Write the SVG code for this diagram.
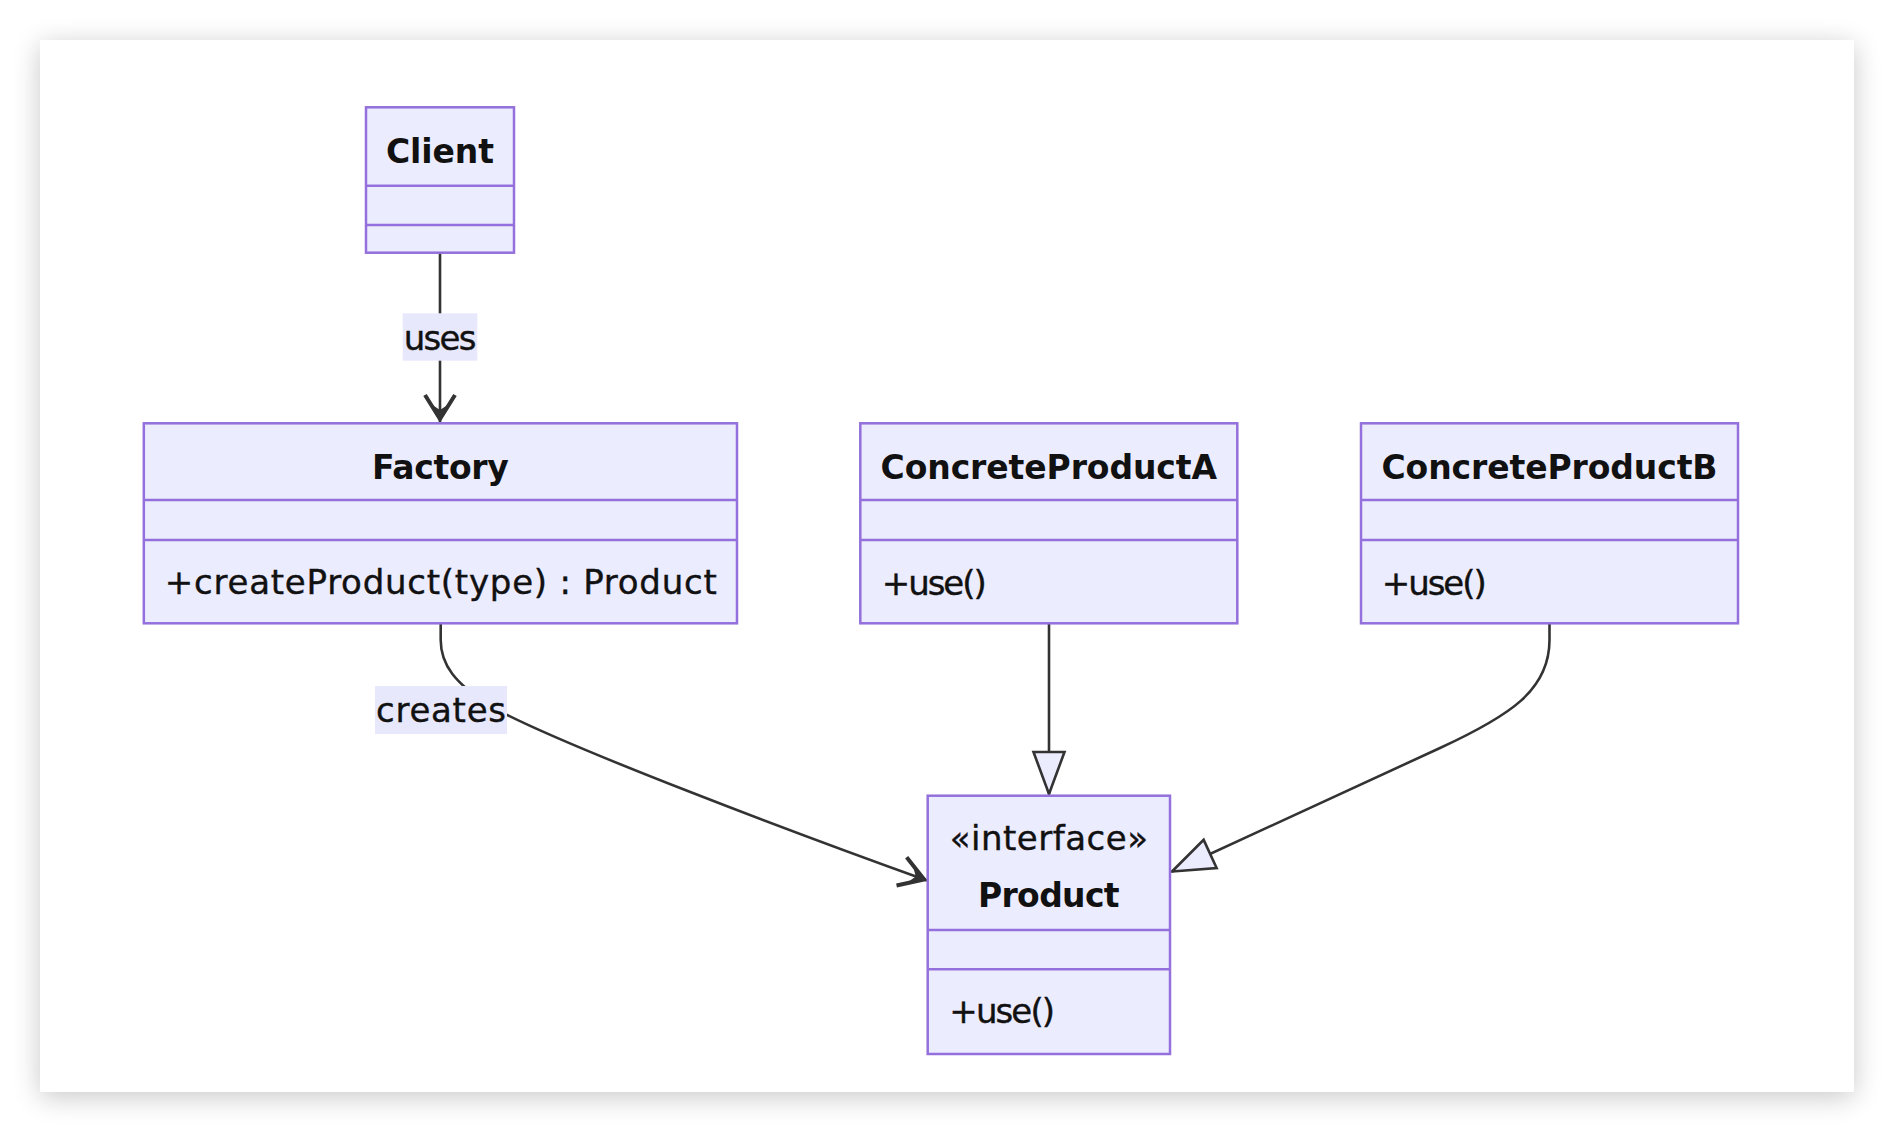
<svg xmlns="http://www.w3.org/2000/svg" width="1894" height="1132" viewBox="0 0 1894 1132">
  <style>
    .box { fill: #ECECFF; stroke: #9370DB; stroke-width: 2.5; }
    .div { stroke: #9370DB; stroke-width: 2.5; }
    .title { font-family: "DejaVu Sans", sans-serif; font-weight: bold; font-size: 33px; text-anchor: middle; fill: #111; }
    .member { font-family: "DejaVu Sans", sans-serif; font-size: 34px; fill: #111; stroke: #111; stroke-width: 0.4; }
    .stereo { font-family: "DejaVu Sans", sans-serif; font-size: 34px; text-anchor: middle; fill: #111; stroke: #111; stroke-width: 0.4; }
    .edge { fill: none; stroke: #333; stroke-width: 2.6; }
    .lblbg { fill: #E8E8FC; }
    .lbl { font-family: "DejaVu Sans", sans-serif; font-size: 34px; text-anchor: middle; fill: #111; stroke: #111; stroke-width: 0.4; }
  </style>
  <defs>
    <filter id="shadow" x="-10%" y="-10%" width="120%" height="120%">
      <feGaussianBlur in="SourceAlpha" stdDeviation="14"/>
      <feOffset dx="0" dy="5" result="b"/>
      <feComponentTransfer><feFuncA type="linear" slope="0.22"/></feComponentTransfer>
      <feMerge><feMergeNode/><feMergeNode in="SourceGraphic"/></feMerge>
    </filter>
    <marker id="ext" markerUnits="userSpaceOnUse" viewBox="-3 -20 52 40" markerWidth="52" markerHeight="40" refX="42" refY="0" orient="auto">
      <path d="M42,0 L0,-15.5 L0,15.5 Z" fill="#ECECFF" stroke="#333" stroke-width="2.6" stroke-linejoin="miter"/>
    </marker>
    <marker id="arr" markerUnits="userSpaceOnUse" viewBox="-32 -20 36 40" markerWidth="36" markerHeight="40" refX="0" refY="0" orient="auto">
      <path d="M-27,-15 L-3,0 L-27,15" fill="none" stroke="#333" stroke-width="4" stroke-linejoin="miter"/>
      <path d="M0,0 L-17,-7.5 L-12,0 L-17,7.5 Z" fill="#333"/>
    </marker>
  </defs>

  <rect x="40" y="40" width="1814" height="1052" fill="#ffffff" filter="url(#shadow)"/>

  <g id="connectors">
    <path class="edge" d="M440,252.7 L440,422" marker-end="url(#arr)"/>
    <path class="edge" d="M1049,623.3 L1049,794" marker-end="url(#ext)"/>
    <path class="edge" d="M1549.5,623.3 L1549.5,640 C1549.5,690 1510,715.6 1440,748 L1172,871.5" marker-end="url(#ext)"/>
    <path class="edge" d="M440.7,623.3 L440.7,640 C440.7,665 455,683 490,706 C560,745 800,835 927,880.5" marker-end="url(#arr)"/>
    <g id="label-uses">
      <rect class="lblbg" x="402.7" y="313.3" width="74.6" height="47.4"/>
      <text class="lbl" x="440" y="350" textLength="72.7">uses</text>
    </g>
    <g id="label-creates">
      <rect class="lblbg" x="375" y="686" width="132" height="48"/>
      <text class="lbl" x="441" y="721.7" textLength="130">creates</text>
    </g>
  </g>

  <g id="Client">
    <rect class="box" x="366" y="107.3" width="148" height="145.4"/>
    <line class="div" x1="366" y1="185.7" x2="514" y2="185.7"/>
    <line class="div" x1="366" y1="225" x2="514" y2="225"/>
    <text class="title" x="440" y="162.7" textLength="108">Client</text>
  </g>

  <g id="Factory">
    <rect class="box" x="143.8" y="423.3" width="593.2" height="200"/>
    <line class="div" x1="143.8" y1="500" x2="737" y2="500"/>
    <line class="div" x1="143.8" y1="540" x2="737" y2="540"/>
    <text class="title" x="440.4" y="479.3" textLength="136.8">Factory</text>
    <text class="member" x="164.8" y="594.3" textLength="552">+createProduct(type) : Product</text>
  </g>

  <g id="ConcreteProductA">
    <rect class="box" x="860.3" y="423.3" width="377" height="200"/>
    <line class="div" x1="860.3" y1="500" x2="1237.3" y2="500"/>
    <line class="div" x1="860.3" y1="540" x2="1237.3" y2="540"/>
    <text class="title" x="1048.8" y="479" textLength="336.5">ConcreteProductA</text>
    <text class="member" x="881.7" y="595" textLength="105">+use()</text>
  </g>

  <g id="ConcreteProductB">
    <rect class="box" x="1361" y="423.3" width="377" height="200"/>
    <line class="div" x1="1361" y1="500" x2="1738" y2="500"/>
    <line class="div" x1="1361" y1="540" x2="1738" y2="540"/>
    <text class="title" x="1549.5" y="479" textLength="336">ConcreteProductB</text>
    <text class="member" x="1381.7" y="595" textLength="105">+use()</text>
  </g>

  <g id="Product">
    <rect class="box" x="927.7" y="795.7" width="242.3" height="258.3"/>
    <line class="div" x1="927.7" y1="930" x2="1170" y2="930"/>
    <line class="div" x1="927.7" y1="969.3" x2="1170" y2="969.3"/>
    <text class="stereo" x="1048.8" y="850" textLength="198.3">«interface»</text>
    <text class="title" x="1048.8" y="907.3" textLength="141.7">Product</text>
    <text class="member" x="949.3" y="1023.3" textLength="105.7">+use()</text>
  </g>
</svg>
